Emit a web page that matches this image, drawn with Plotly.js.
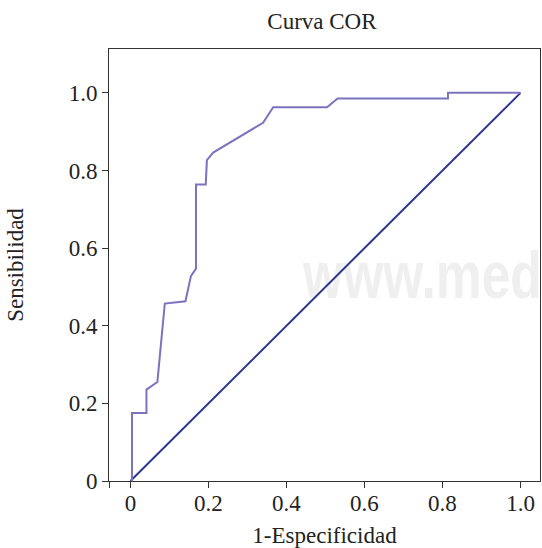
<!DOCTYPE html>
<html>
<head>
<meta charset="utf-8">
<script src="https://cdn.plot.ly/plotly-3.0.1.min.js"></script>
<style>
html,body{margin:0;padding:0;background:#fff;}
#wrap{position:relative;width:542px;height:548px;overflow:hidden;background:#fff;}
#wm{position:absolute;left:303px;top:235px;font-family:"Liberation Sans",Arial,sans-serif;font-weight:bold;font-size:67px;line-height:80px;color:#efefef;transform:scaleX(0.77);transform-origin:0 0;white-space:nowrap;}
#chart{position:absolute;left:0;top:0;width:542px;height:548px;}
</style>
</head>
<body>
<div id="wrap">
<div id="wm">www.med</div>
<div id="chart"></div>
</div>
<script>
const fpr = [0, 0.004, 0.004, 0.041, 0.041, 0.069, 0.088, 0.141, 0.155, 0.168, 0.168, 0.193, 0.196, 0.212, 0.340, 0.366, 0.504, 0.531, 0.814, 0.814, 1.0];
const tpr = [0, 0, 0.175, 0.175, 0.2355, 0.255, 0.457, 0.463, 0.528, 0.547, 0.764, 0.764, 0.8265, 0.846, 0.923, 0.963, 0.963, 0.9855, 0.9855, 1.0, 1.0];
const refX = [0, 1];
const refY = [0, 1];
const xTickVals = [-0.055, 0, 0.2, 0.4, 0.6, 0.8, 1.0];
const xTickText = ['', '0', '0.2', '0.4', '0.6', '0.8', '1.0'];
const yTickVals = [0, 0.2, 0.4, 0.6, 0.8, 1.0];
const yTickText = ['0', '0.2', '0.4', '0.6', '0.8', '1.0'];

const font = {family: 'Liberation Serif, Times New Roman, serif', size: 23, color: '#222'};

const traces = [
  {x: refX, y: refY, mode: 'lines', line: {color: '#2b3491', width: 2}, hoverinfo: 'skip'},
  {x: fpr, y: tpr, mode: 'lines', line: {color: '#7b73c0', width: 2}, hoverinfo: 'skip'}
];

const layout = {
  width: 542, height: 548,
  margin: {l: 109, r: 2, t: 49, b: 67},
  paper_bgcolor: 'rgba(0,0,0,0)',
  plot_bgcolor: 'rgba(0,0,0,0)',
  showlegend: false,
  font: font,
  title: {text: 'Curva COR', font: font, x: 0.594, xanchor: 'center', y: 0.962, yanchor: 'middle'},
  xaxis: {
    range: [-0.055, 1.05], showgrid: false, zeroline: false,
    showline: true, linecolor: '#333', linewidth: 1, mirror: true,
    ticks: 'outside', ticklen: 6, tickcolor: '#333', ticklabelstandoff: -5,
    tickvals: xTickVals, ticktext: xTickText, tickfont: font,
    title: {text: '1-Especificidad', font: font, standoff: 13}
  },
  yaxis: {
    range: [0, 1.113], showgrid: false, zeroline: false,
    showline: true, linecolor: '#333', linewidth: 1, mirror: true,
    ticks: 'outside', ticklen: 6, tickcolor: '#333',
    tickvals: yTickVals, ticktext: yTickText, tickfont: font,
    title: {text: 'Sensibilidad', font: font, standoff: 38}
  }
};

Plotly.newPlot('chart', traces, layout, {displayModeBar: false, staticPlot: true});
</script>
</body>
</html>
